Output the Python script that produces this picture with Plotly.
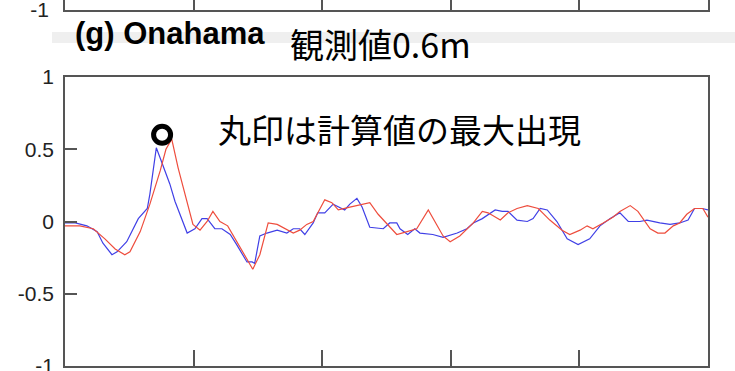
import plotly.graph_objects as go

# Water level time series (time in minutes, level in metres)
obs_t = [0.0, 1.6, 3.4, 5.0, 5.9, 7.3, 8.1, 9.6, 11.4, 12.8,
         13.2, 14.2, 14.8, 16.3, 17.1, 18.2, 19.0, 20.2, 21.3, 22.1,
         23.3, 24.4, 25.7, 26.7, 28.3, 29.1, 29.5, 30.3, 31.4, 33.0,
         34.5, 35.5, 36.5, 37.3, 38.6, 39.3, 40.4, 41.7, 42.5, 43.5,
         44.3, 45.4, 46.2, 47.4, 49.5, 50.5, 51.6, 52.1, 53.3, 54.4,
         55.2, 57.2, 58.8, 61.0, 62.5, 63.5, 64.9, 66.9, 68.0, 68.9,
         70.3, 71.9, 72.8, 73.9, 75.0, 76.5, 78.1, 79.8, 81.6, 83.2,
         84.8, 86.3, 87.6, 89.4, 90.5, 92.5, 94.1, 95.6, 96.9, 97.9,
         99.1, 100.0]
obs_level = [-0.01, -0.01, -0.03, -0.07, -0.15, -0.23, -0.21, -0.14, 0.02, 0.09,
             0.19, 0.51, 0.44, 0.26, 0.14, 0.02, -0.08, -0.05, 0.02, 0.02,
             -0.05, -0.05, -0.09, -0.16, -0.28, -0.28, -0.29, -0.10, -0.08, -0.06,
             -0.08, -0.05, -0.05, -0.09, -0.01, 0.06, 0.06, 0.12, 0.10, 0.08,
             0.12, 0.16, 0.10, -0.04, -0.05, -0.01, -0.01, -0.05, -0.09, -0.05,
             -0.08, -0.09, -0.11, -0.08, -0.05, -0.01, 0.02, 0.08, 0.07, 0.07,
             0.01, 0.00, 0.02, 0.09, 0.08, 0.00, -0.12, -0.16, -0.12, -0.03,
             0.02, 0.06, 0.00, 0.00, 0.01, -0.01, -0.02, -0.01, 0.01, 0.09,
             0.09, 0.08]

sim_t = [0.0, 2.3, 4.4, 6.2, 7.8, 9.3, 10.1, 11.7, 13.2, 14.8,
         15.7, 16.6, 17.6, 19.0, 19.9, 21.0, 22.1, 23.0, 24.1, 25.3,
         26.7, 28.3, 29.2, 30.3, 31.6, 33.0, 35.5, 36.5, 37.6, 38.6,
         40.4, 41.5, 42.5, 44.3, 46.2, 47.4, 48.7, 50.1, 51.6, 53.2,
         54.7, 56.5, 58.8, 59.9, 61.4, 63.5, 64.9, 65.8, 67.7, 68.9,
         70.3, 71.9, 73.6, 75.4, 77.3, 78.5, 80.1, 81.2, 82.1, 83.7,
         85.2, 86.3, 87.9, 89.1, 91.0, 92.2, 93.3, 94.6, 95.6, 96.7,
         97.9, 99.2, 100.0]
sim_level = [-0.03, -0.03, -0.05, -0.12, -0.19, -0.23, -0.21, -0.07, 0.12, 0.35,
             0.50, 0.57, 0.37, 0.12, -0.02, -0.06, 0.00, 0.07, 0.00, -0.03,
             -0.14, -0.26, -0.33, -0.23, -0.01, -0.02, -0.08, -0.06, -0.02, 0.00,
             0.15, 0.13, 0.08, 0.10, 0.12, 0.13, 0.05, -0.02, -0.09, -0.07,
             -0.05, 0.08, -0.10, -0.14, -0.10, -0.01, 0.07, 0.06, 0.01, 0.06,
             0.09, 0.11, 0.09, 0.01, -0.06, -0.09, -0.06, -0.03, -0.05, -0.01,
             0.03, 0.07, 0.11, 0.07, -0.05, -0.08, -0.08, -0.03, -0.01, 0.05,
             0.09, 0.09, 0.03]

# Computed maximum (circle mark)
peak_t = [15.1]
peak_level = [0.60]

y_ticks = [-1, -0.5, 0, 0.5, 1]
y_tick_text = ["-1", "-0.5", "0", "0.5", "1"]
x_ticks = [20, 40, 60, 80]
upper_y_ticks = [-1]
upper_y_tick_text = ["-1"]

W, H = 735, 371
AX = "#555555"

fig = go.Figure()
fig.add_trace(go.Scatter(x=obs_t, y=obs_level, mode="lines",
                         line=dict(color="#4040e6", width=1.2)))
fig.add_trace(go.Scatter(x=sim_t, y=sim_level, mode="lines",
                         line=dict(color="#ee4d3d", width=1.2)))
fig.add_trace(go.Scatter(x=peak_t, y=peak_level, mode="markers",
                         marker=dict(symbol="circle-open", size=17,
                                     color="#000000",
                                     line=dict(width=5, color="#000000"))))
# bottom edge of the panel above
fig.add_trace(go.Scatter(x=[None], y=[None], xaxis="x2", yaxis="y2",
                         mode="lines"))

xdom = [65 / W, 708 / W]
common_x = dict(range=[0, 100], tickvals=x_ticks, ticks="inside", ticklen=16,
                tickwidth=1.5, tickcolor=AX, showticklabels=False,
                showline=True, linecolor=AX, linewidth=1.5,
                showgrid=False, zeroline=False, fixedrange=True,
                automargin=False)
tick_font = dict(family="Liberation Sans, Arial, sans-serif", size=21,
                 color="#222222")

fig.update_layout(
    width=W, height=H,
    margin=dict(l=0, r=0, t=0, b=0, pad=0),
    paper_bgcolor="white", plot_bgcolor="white",
    showlegend=False,
    xaxis=dict(domain=xdom, anchor="y", mirror=True, **common_x),
    yaxis=dict(domain=[5 / H, 294 / H], anchor="x", range=[-1, 1],
               tickvals=y_ticks, ticktext=y_tick_text, ticks="inside",
               ticklen=12, tickwidth=1.5, tickcolor=AX,
               showline=True, linecolor=AX, linewidth=1.5, mirror=True,
               showgrid=False, zeroline=False, tickfont=tick_font,
               ticklabelstandoff=5, automargin=False,
               ticklabeloverflow="allow"),
    xaxis2=dict(domain=xdom, anchor="y2", **common_x),
    yaxis2=dict(domain=[361 / H, 1], anchor="x2", range=[-1, -0.93],
                tickvals=upper_y_ticks, ticktext=upper_y_tick_text,
                ticks="", showline=True, linecolor=AX, linewidth=1.5,
                mirror=True, showgrid=False, zeroline=False,
                tickfont=tick_font, ticklabelstandoff=10, automargin=False,
                ticklabeloverflow="allow"),
    shapes=[dict(type="rect", xref="paper", yref="paper",
                 x0=52 / W, x1=1, y0=(H - 43) / H, y1=(H - 32) / H,
                 fillcolor="#efefef", line=dict(width=0), layer="below")],
    annotations=[
        dict(text="<b>(g) Onahama</b>", xref="paper", yref="paper",
             x=73 / W, y=(H - 33) / H, xanchor="left", yanchor="middle",
             showarrow=False,
             font=dict(family="Liberation Sans, Arial, sans-serif",
                       size=31, color="#000000")),
        dict(text="観測値0.6m", xref="paper", yref="paper",
             x=288 / W, y=(H - 43) / H, xanchor="left", yanchor="middle",
             showarrow=False,
             font=dict(family="Noto Sans CJK JP", size=34, color="#000000")),
        dict(text="丸印は計算値の最大出現", xref="paper", yref="paper",
             x=216 / W, y=(H - 129) / H, xanchor="left", yanchor="middle",
             showarrow=False,
             font=dict(family="Noto Sans CJK JP", size=33, color="#000000")),
    ],
)

fig.write_html("out.html")
